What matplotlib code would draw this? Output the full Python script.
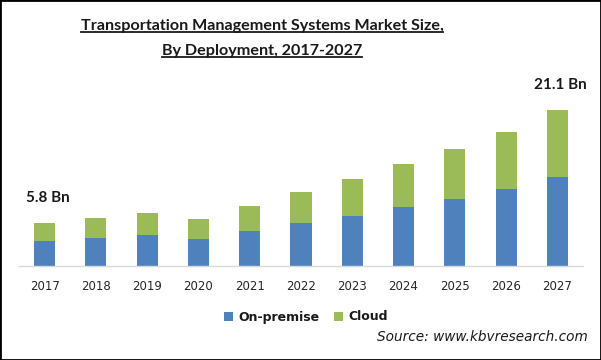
import matplotlib
matplotlib.use("Agg")
import matplotlib.pyplot as plt
from matplotlib.lines import Line2D
from matplotlib.patches import Rectangle

years = ["2017", "2018", "2019", "2020", "2021", "2022", "2023", "2024", "2025", "2026", "2027"]
on_premise = [3.4, 3.8, 4.2, 3.7, 4.8, 5.8, 6.8, 8.0, 9.1, 10.4, 12.1]
cloud = [2.4, 2.7, 3.0, 2.7, 3.3, 4.2, 5.0, 5.8, 6.7, 7.7, 9.0]
series_names = ["On-premise", "Cloud"]
title_lines = ["Transportation Management Systems Market Size,", "By Deployment, 2017-2027"]
first_label = "5.8 Bn"
last_label = "21.1 Bn"
source_text = "Source: www.kbvresearch.com"

BLUE = "#4f81bd"
GREEN = "#9bbb59"
W, H = 601, 360

fig = plt.figure(figsize=(W / 100, H / 100), dpi=100)
fig.patch.set_facecolor("white")
ax = fig.add_axes([19 / W, 94 / H, 564 / W, 176 / H])
x = list(range(len(years)))
ax.bar(x, on_premise, width=0.41, color=BLUE, label=series_names[0])
ax.bar(x, cloud, width=0.41, bottom=on_premise, color=GREEN, label=series_names[1])
ax.set_xlim(-0.5, len(years) - 0.5)
ax.set_ylim(0, 176 * 0.1355)
for s in ["top", "right", "left"]:
    ax.spines[s].set_visible(False)
ax.spines["bottom"].set_color("#d9d9d9")
ax.spines["bottom"].set_linewidth(1.0)
ax.set_yticks([])
ax.set_xticks(x)
ax.set_xticklabels(years, fontsize=8.5, color="#262626")
ax.tick_params(axis="x", length=0, pad=10)

lab_fam = ["Lato", "DejaVu Sans"]
ax.text(0.07, 9.15, first_label, ha="center", va="center", fontsize=11,
        fontweight="bold", family=lab_fam, color="#1a1a1a", clip_on=False)
ax.text(10.05, 24.5, last_label, ha="center", va="center", fontsize=11,
        fontweight="bold", family=lab_fam, color="#1a1a1a", clip_on=False)

fam = ["Lato", "DejaVu Sans"]
t1 = fig.text(262 / W, 1 - 26 / H, title_lines[0], ha="center", va="center",
              fontsize=13, fontweight="bold", family=fam, color="#1a1a1a")
t2 = fig.text(262 / W, 1 - 51 / H, title_lines[1], ha="center", va="center",
              fontsize=13, fontweight="bold", family=fam, color="#1a1a1a")
fig.canvas.draw()
r = fig.canvas.get_renderer()
w1 = t1.get_window_extent(r).width
size = 13 * 362 / w1
t1.set_fontsize(size)
t2.set_fontsize(size)
fig.canvas.draw()
for t in (t1, t2):
    bb = t.get_window_extent(r)
    yl = bb.y0 + 1.0
    fig.add_artist(Line2D([bb.x0 / W, bb.x1 / W], [yl / H, yl / H],
                          transform=fig.transFigure, color="#1a1a1a", lw=1.3))

fig.legend(loc="center", bbox_to_anchor=(306 / W, 1 - 317 / H), ncol=2, frameon=False,
           prop={"weight": "bold", "size": 9}, handlelength=0.7, handleheight=0.7,
           handletextpad=0.4, columnspacing=1.2, labelcolor="#1a1a1a")
fig.text(588 / W, 1 - 337 / H, source_text, ha="right", va="center", fontsize=9.8,
         style="italic", color="#1a1a1a")

fig.add_artist(Rectangle((0, 0), 1, 1, transform=fig.transFigure, fill=False,
                         edgecolor="black", lw=2.0))
fig.savefig("out.png", dpi=100)
